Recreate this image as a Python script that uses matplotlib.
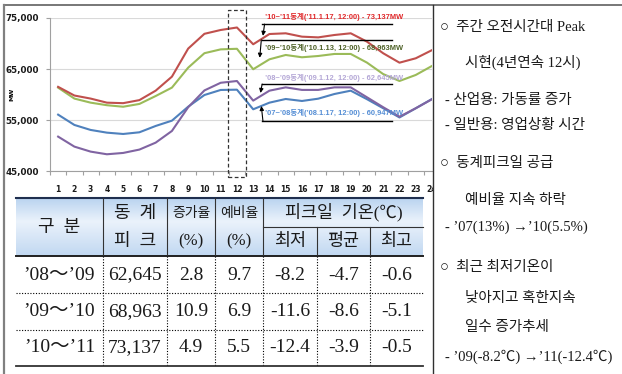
import matplotlib.pyplot as plt
import numpy as np
from matplotlib.patches import Rectangle

# hourly load on the winter peak day (MW)
HOURS = list(range(1, 25))
LOAD_0708 = [56050, 54030, 53050, 52520, 52260, 52590, 53830, 54870, 57610, 59900, 60890, 60947,
             57100, 58400, 59120, 58730, 59180, 60100, 60750, 59080, 57300, 55500, 57300, 59120]
LOAD_0809 = [51740, 49780, 48800, 48280, 48540, 49200, 50560, 52850, 57500, 60800, 62300, 62645,
             58800, 60750, 61400, 60900, 60900, 61400, 61400, 59450, 57500, 55650, 57300, 59080]
LOAD_0910 = [61340, 59200, 58400, 57900, 57600, 58150, 59700, 61350, 65260, 68100, 68850, 68963,
             64950, 66900, 67750, 67300, 67550, 67950, 67950, 66250, 64000, 62650, 63830, 65600]
LOAD_1011 = [61500, 59800, 59200, 58400, 58300, 58900, 60750, 63500, 69000, 71900, 72650, 73137,
             69850, 71860, 72000, 71340, 71200, 71670, 72000, 70360, 68080, 66240, 67100, 68700]

SEASONS = ["’07~’08", "’08~’09", "’09~’10", "’10~’11"]
PEAK_DATES = ["’08.1.17", "’09.1.12", "’10.1.13", "’11.1.17"]

# summary table
PERIODS = ["’08～’09", "’09～’10", "’10～’11"]
WINTER_PEAK = [62645, 68963, 73137]
GROWTH = [2.8, 10.9, 4.9]
RESERVE = [9.7, 6.9, 5.5]
T_MIN = [-8.2, -11.6, -12.4]
T_AVG = [-4.7, -8.6, -3.9]
T_MAX = [-0.6, -5.1, -0.5]

NOTES = [
    (440, 27, "○  주간 오전시간대 Peak"),
    (465, 62, "시현(4년연속 12시)"),
    (445, 100, "- 산업용: 가동률 증가"),
    (445, 125, "- 일반용: 영업상황 시간"),
    (440, 163, "○  동계피크일 공급"),
    (465, 200, "예비율 지속 하락"),
    (445, 227, "- ’07(13%) →’10(5.5%)"),
    (440, 267, "○  최근 최저기온이"),
    (465, 298, "낮아지고 혹한지속"),
    (465, 328, "일수 증가추세"),
    (445, 357, "- ’09(-8.2℃) →’11(-12.4℃)"),
]

KR_SANS = ["Liberation Sans", "Noto Sans CJK KR"]
KR_SERIF = ["Liberation Serif", "Noto Sans CJK KR"]

fig = plt.figure(figsize=(6.22, 3.74), dpi=100)

# ---- line chart ----
ax = fig.add_axes([50 / 622, 1 - 171 / 374, 382 / 622, 153 / 374])
series = [
    (LOAD_0708, "#4f81bd", "#558ed5", 13.6, 56350, 54800, 57750),
    (LOAD_0809, "#8064a2", "#b4a7d6", 13.55, 63250, 62050, 60300),
    (LOAD_0910, "#9bbb59", "#4f6228", 13.5, 69100, 70700, 67200),
    (LOAD_1011, "#c0504d", "#e0282a", 13.7, 75250, 73800, 71500),
]
for (vals, col, *_ ) in series:
    ax.plot(HOURS, vals, color=col, lw=1.5, zorder=3)

ax.set_xlim(0.5, 24.0)
ax.set_ylim(45000, 75000)
ax.set_yticks([45000, 55000, 65000, 75000])
ax.set_yticklabels([f"{v:,}" for v in [45000, 55000, 65000, 75000]])
ax.set_xticks(HOURS)
ax.set_xticks(np.arange(0.5, 24, 1), minor=True)
ax.tick_params(axis="x", which="major", length=0, pad=10, labelsize=5.5)
ax.tick_params(axis="x", which="minor", length=3, color="#a0a0a0", width=0.8)
ax.tick_params(axis="y", length=3, color="#a0a0a0", width=0.8, pad=5, labelsize=6.3)
for lbl in ax.get_xticklabels() + ax.get_yticklabels():
    lbl.set_fontweight("bold")
    lbl.set_color("#1a1a1a")
ax.grid(axis="y", color="#d9d9d9", lw=0.8)
ax.set_axisbelow(True)
for s in ("top", "right"):
    ax.spines[s].set_visible(False)
for s in ("left", "bottom"):
    ax.spines[s].set_color("#a0a0a0")
    ax.spines[s].set_linewidth(0.8)
ax.text(-0.1, 0.5, "MW", transform=ax.transAxes, rotation=90, fontsize=4.5,
        ha="center", va="center", fontweight="bold")

# peak callouts
for (vals, col, tcol, ax_x, ty, ly, tip), season, date in zip(series, SEASONS, PEAK_DATES):
    peak = vals[HOURS.index(12)]
    ax.text(13.7, ty, f"{season}동계({date}, 12:00) - {peak:,}MW", color=tcol,
            fontsize=5.4, fontweight="bold", family=KR_SANS, ha="left", va="center",
            clip_on=False, zorder=4)
    ax.plot([13.55, 21.55], [ly, ly], color="black", lw=1.0, clip_on=False, zorder=4)
    ax.annotate("", xy=(ax_x - 0.1, tip), xytext=(ax_x, ly),
                arrowprops=dict(arrowstyle="-|>", color="black", lw=0.8, mutation_scale=6,
                                shrinkA=0, shrinkB=0), annotation_clip=False, zorder=4)

ax.add_patch(Rectangle((11.43, 43800), 1.1, 32700, fill=False, ls=(0, (3, 2)), lw=0.9,
                       ec="#333333", clip_on=False, zorder=4))

# ---- overlay in pixel units: table, notes, frame ----
ov = fig.add_axes([0, 0, 1, 1], zorder=5)
ov.patch.set_alpha(0)
ov.axis("off")

grad = np.interp(np.linspace(0, 1, 60), [0, 0.4, 1], [0, 1, 0.15])
top_c = np.array([0.73, 0.83, 0.94])
mid_c = np.array([0.92, 0.95, 0.985])
img = top_c[None, :] + grad[:, None] * (mid_c - top_c)[None, :]
ov.imshow(img[:, None, :], extent=[16, 423, 256, 198], aspect="auto", interpolation="bilinear")

ov.add_patch(Rectangle((433, 6), 189, 368, fc="white", ec="none"))
ov.set_xlim(0, 622)
ov.set_ylim(374, 0)

# frame
ov.plot([4, 622], [5, 5], color="#606060", lw=1.2)
ov.plot([4, 4], [5, 374], color="#808080", lw=1.6)
ov.plot([432.5, 432.5], [5, 374], color="#303030", lw=1.0)

cols = [16, 103, 167, 215, 263, 317, 370, 423]
ov.plot([16, 423], [198, 198], color="#1f2f4f", lw=1.5)
ov.plot([16, 423], [256, 256], color="#202020", lw=1.4)
ov.plot([263, 423], [227, 227], color="#333333", lw=0.8)
for x in cols[1:5]:
    ov.plot([x, x], [198, 256], color="#333333", lw=0.8)
for x in cols[5:7]:
    ov.plot([x, x], [227, 256], color="#333333", lw=0.8)
for x in cols[1:7]:
    ov.plot([x, x], [256, 366], color="black", lw=0.8, ls=(0, (1, 1.5)))
for y in (293, 330):
    ov.plot([16, 423], [y, y], color="black", lw=0.8, ls=(0, (1, 1.5)))
ov.plot([16, 423], [366, 366], color="#333333", lw=1.3)

centers = [(a + b) / 2 for a, b in zip(cols[:-1], cols[1:])]
hdr = dict(family=KR_SERIF, ha="center", va="center", color="#1a1a1a")
ov.text(centers[0], 227, "구  분", fontsize=13, **hdr)
ov.text(centers[1], 213, "동  계", fontsize=13, **hdr)
ov.text(centers[1], 241, "피  크", fontsize=13, **hdr)
ov.text(centers[2], 213, "증가율", fontsize=10, **hdr)
ov.text(centers[2], 241, "(%)", fontsize=12, **hdr)
ov.text(centers[3], 213, "예비율", fontsize=10, **hdr)
ov.text(centers[3], 241, "(%)", fontsize=12, **hdr)
ov.text(centers[5], 212, "피크일  기온(℃)", fontsize=12.5, **hdr)
for c, t in zip(centers[4:], ["최저", "평균", "최고"]):
    ov.text(c, 242, t, fontsize=12.5, **hdr)

row_y = [275, 312, 348]
for i, y in enumerate(row_y):
    cells = [PERIODS[i], f"{WINTER_PEAK[i]:,}", f"{GROWTH[i]}", f"{RESERVE[i]}",
             f"{T_MIN[i]}", f"{T_AVG[i]}", f"{T_MAX[i]}"]
    for c, t in zip(centers, cells):
        ov.text(c, y, t, fontsize=14, **hdr)

for x, y, t in NOTES:
    ov.text(x, y, t, fontsize=10.5, family=KR_SERIF, ha="left", va="center", color="#1a1a1a")

fig.savefig("out.png", dpi=100)
